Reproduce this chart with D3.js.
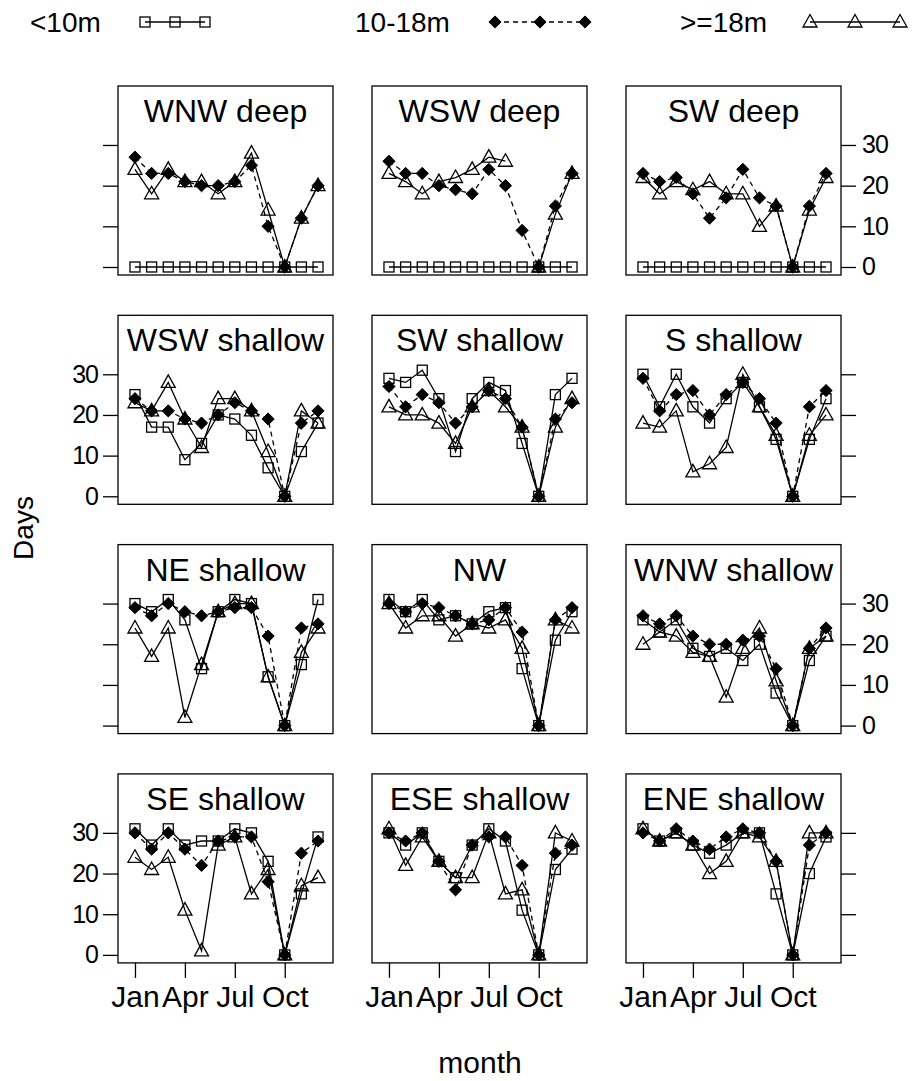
<!DOCTYPE html>
<html><head><meta charset="utf-8">
<script src="https://cdn.jsdelivr.net/npm/d3@7"></script>
<style>body{margin:0;background:#fff}svg{display:block}text{font-family:"Liberation Sans",Arial,sans-serif;fill:#000}</style>
</head><body>
<script>
const months = ["Jan","Feb","Mar","Apr","May","Jun","Jul","Aug","Sep","Oct","Nov","Dec"];
const tickMonths = ["Jan","Apr","Jul","Oct"];
const yTicks = [0,10,20,30];
const seriesNames = ["<10m","10-18m",">=18m"];
const panels = ["WNW deep","WSW deep","SW deep","WSW shallow","SW shallow","S shallow","NE shallow","NW","WNW shallow","SE shallow","ESE shallow","ENE shallow"];
// <10m (squares)
const lt10 = [
 [0,0,0,0,0,0,0,0,0,0,0,0],
 [0,0,0,0,0,0,0,0,0,0,0,0],
 [0,0,0,0,0,0,0,0,0,0,0,0],
 [25,17,17,9,13,20,19,15,7,0,11,18],
 [29,28,31,24,11,24,28,26,13,0,25,29],
 [30,22,30,22,18,24,28,22,14,0,14,24],
 [30,28,31,26,14,28,31,30,12,0,15,31],
 [31,28,31,26,27,25,28,29,14,0,21,28],
 [26,23,26,19,17,19,16,20,8,0,16,22],
 [31,27,31,27,28,28,31,30,23,0,15,29],
 [30,27,30,23,19,27,31,28,11,0,21,26],
 [31,28,30,27,25,27,30,30,15,0,20,29]
];
// 10-18m (filled diamonds, dashed)
const m10to18 = [
 [27,23,23,21,20,20,21,25,10,0,12,20],
 [26,23,23,20,19,18,24,20,9,0,15,23],
 [23,21,22,18,12,17,24,17,15,0,15,23],
 [24,21,21,19,18,20,23,21,19,0,18,21],
 [27,22,25,23,18,22,26,24,17,0,19,23],
 [29,21,25,26,20,25,28,24,18,0,22,26],
 [29,27,30,28,27,28,29,29,22,0,24,25],
 [30,28,30,29,27,25,26,29,23,0,26,29],
 [27,25,27,22,20,20,21,22,14,0,19,24],
 [30,26,30,26,22,28,29,29,18,0,25,28],
 [30,28,30,23,16,27,29,29,22,0,25,27],
 [30,28,31,28,26,29,31,30,23,0,27,30]
];
// >=18m (open triangles); null = missing
const ge18 = [
 [24,18,24,21,21,18,21,28,14,0,12,20],
 [23,21,18,21,22,24,27,26,null,0,13,23],
 [22,18,21,19,21,18,18,10,15,0,14,22],
 [23,21,28,19,12,24,24,21,11,0,21,18],
 [22,20,20,18,13,22,26,22,17,0,17,24],
 [18,17,21,6,8,12,30,22,15,0,15,20],
 [24,17,24,2,15,28,30,30,12,0,18,24],
 [30,24,27,27,22,25,24,26,19,0,26,24],
 [20,23,22,18,17,7,19,24,11,0,19,22],
 [24,21,24,11,1,27,29,15,21,0,17,19],
 [31,22,29,23,19,19,30,15,16,0,30,28],
 [31,28,30,27,20,23,30,29,23,0,30,30]
];

const W = 914, H = 1081;
const svg = d3.select("body").append("svg").attr("width", W).attr("height", H);
const FS = 30, TFS = 32, NFS = 25;
const boxW = 215, boxH = 189, colStep = 254, rowStep = 229.3, left0 = 118, top0 = 86;

const triPath = "M0,-7.5L7,5L-7,5Z";
const sqSize = 10;

function drawMarker(g, type, x, y) {
  if (type === 0) {
    g.append("rect").attr("x", x - sqSize/2).attr("y", y - sqSize/2).attr("width", sqSize).attr("height", sqSize)
      .attr("fill", "none").attr("stroke", "#000").attr("stroke-width", 1.3);
  } else if (type === 1) {
    g.append("path").attr("d", d3.symbol(d3.symbolDiamond2, 95)()).attr("transform", `translate(${x},${y})`)
      .attr("fill", "#000").attr("stroke", "#000").attr("stroke-width", 1);
  } else {
    g.append("path").attr("d", triPath).attr("transform", `translate(${x},${y})`)
      .attr("fill", "none").attr("stroke", "#000").attr("stroke-width", 1.3);
  }
}

const allSeries = [lt10, m10to18, ge18];
const dashes = [null, "5,4", null];

function styleAxis(ax) {
  ax.select(".domain").remove();
  ax.selectAll("line").attr("stroke-width", 1.3);
}

panels.forEach((name, i) => {
  const r = Math.floor(i / 3), c = i % 3;
  const x0 = left0 + c * colStep, y0 = top0 + r * rowStep;
  const x = d3.scaleLinear().domain([-0.02, 12.9]).range([x0, x0 + boxW]);
  const y = d3.scaleLinear().domain([-1.97, 44.5]).range([y0 + boxH, y0]);
  const g = svg.append("g");
  g.append("rect").attr("x", x0).attr("y", y0).attr("width", boxW).attr("height", boxH)
    .attr("fill", "none").attr("stroke", "#000").attr("stroke-width", 1.3);
  g.append("text").attr("x", x0 + boxW/2).attr("y", y0 + 36).attr("text-anchor", "middle")
    .attr("font-size", TFS).text(name);

  allSeries.forEach((S, k) => {
    const vals = S[i];
    const line = d3.line().defined(d => d != null).x((d, j) => x(j + 1)).y(d => y(d));
    g.append("path").attr("d", line(vals)).attr("fill", "none").attr("stroke", "#000")
      .attr("stroke-width", 1.3).attr("stroke-dasharray", dashes[k]);
  });
  allSeries.forEach((S, k) => {
    S[i].forEach((v, j) => { if (v != null) drawMarker(g, k, x(j + 1), y(v)); });
  });

  if (c === 0) {
    const ax = g.append("g").attr("transform", `translate(${x0},0)`)
      .call(d3.axisLeft(y).tickValues(yTicks).tickSize(15).tickPadding(5).tickFormat(r % 2 === 1 ? d3.format("d") : ""));
    styleAxis(ax);
    ax.selectAll("text").attr("font-size", NFS).attr("letter-spacing", -1).attr("font-family", '"Liberation Sans",Arial,sans-serif');
  }
  if (c === 2) {
    const ax = g.append("g").attr("transform", `translate(${x0 + boxW},0)`)
      .call(d3.axisRight(y).tickValues(yTicks).tickSize(15).tickPadding(6).tickFormat(r % 2 === 0 ? d3.format("d") : ""));
    styleAxis(ax);
    ax.selectAll("text").attr("font-size", NFS).attr("letter-spacing", -1).attr("font-family", '"Liberation Sans",Arial,sans-serif');
  }
  if (r === 3) {
    const ax = g.append("g").attr("transform", `translate(0,${y0 + boxH})`)
      .call(d3.axisBottom(x).tickValues([1,4,7,10]).tickSize(15).tickPadding(8).tickFormat((d, j) => tickMonths[j]));
    styleAxis(ax);
    ax.selectAll("text").attr("font-size", FS).attr("font-family", '"Liberation Sans",Arial,sans-serif');
  }
});

svg.append("text").attr("transform", "translate(33,528) rotate(-90)").attr("text-anchor", "middle")
  .attr("font-size", 28).text("Days");
svg.append("text").attr("x", 480).attr("y", 1073).attr("text-anchor", "middle").attr("font-size", FS).text("month");

const legend = [
  {label: seriesNames[0], tx: 30, lx: [145, 175, 205], k: 0},
  {label: seriesNames[1], tx: 355, lx: [495, 540, 585], k: 1},
  {label: seriesNames[2], tx: 680, lx: [810, 855, 900], k: 2}
];
const lg = svg.append("g");
legend.forEach(L => {
  lg.append("text").attr("x", L.tx).attr("y", 32).attr("font-size", 28).text(L.label);
  lg.append("line").attr("x1", L.lx[0]).attr("x2", L.lx[2]).attr("y1", 22).attr("y2", 22)
    .attr("stroke", "#000").attr("stroke-width", 1.3).attr("stroke-dasharray", dashes[L.k]);
  L.lx.forEach(px => drawMarker(lg, L.k, px, 22));
});
</script>
</body></html>
